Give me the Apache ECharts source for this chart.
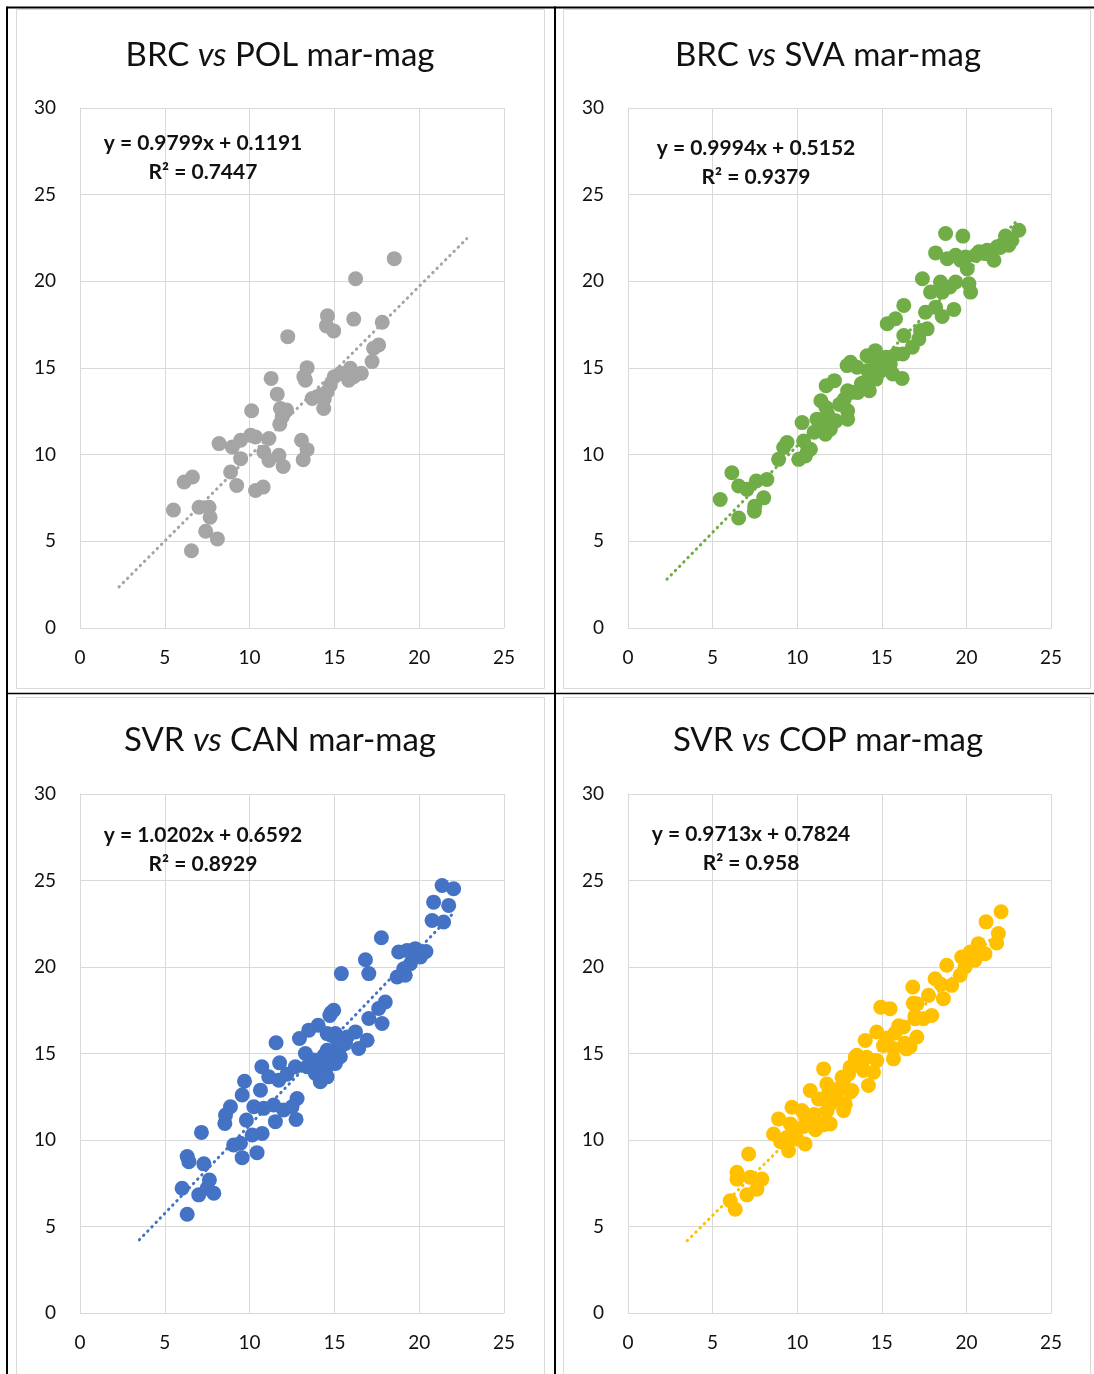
<!DOCTYPE html>
<html>
<head>
<meta charset="utf-8">
<script src="https://cdn.jsdelivr.net/npm/echarts@6/dist/echarts.min.js"></script>
<style>
html,body{margin:0;padding:0;background:#fff;}
#chart{width:1094px;height:1374px;}
</style>
</head>
<body>
<div id="chart"></div>
<script>
// ---------- DATA ----------
var titleLeft = ['BRC', 'BRC', 'SVR', 'SVR'];
var titleRight = ['POL mar-mag', 'SVA mar-mag', 'CAN mar-mag', 'COP mar-mag'];
var equations = ['y = 0.9799x + 0.1191', 'y = 0.9994x + 0.5152', 'y = 1.0202x + 0.6592', 'y = 0.9713x + 0.7824'];
var r2Labels = ['R\u00b2 = 0.7447', 'R\u00b2 = 0.9379', 'R\u00b2 = 0.8929', 'R\u00b2 = 0.958'];
var trendSlope = [0.9799, 0.9994, 1.0202, 0.9713];
var trendIntercept = [0.1191, 0.5152, 0.6592, 0.7824];
var trendXStart = [2.3, 2.3, 3.5, 3.5];
var trendXEnd = [22.8, 23.0, 22.0, 22.0];
var xTicks = [0, 5, 10, 15, 20, 25];
var yTicks = [0, 5, 10, 15, 20, 25, 30];

var brcPolX = [18.53,16.25,14.59,14.53,14.96,16.14,17.82,12.25,17.61,17.31,17.22,13.39,13.2,13.29,11.27,15.35,15.94,16.14,16.59,15.84,14.76,14.57,14.18,13.69,14.37,11.63,11.82,12.18,11.92,11.78,10.12,11.14,10.06,10.35,9.47,8.98,8.2,9.47,10.84,11.14,11.73,11.98,13.06,13.39,13.16,8.88,9.24,10.35,10.8,6.14,6.63,5.51,7.02,7.61,7.67,7.41,8.1,6.57,15.0,14.4];
var brcPolY = [21.31,20.15,18.01,17.43,17.14,17.82,17.64,16.81,16.33,16.14,15.37,15.02,14.5,14.3,14.4,14.69,14.98,14.5,14.69,14.3,14.02,13.63,13.44,13.24,12.66,13.49,12.66,12.57,12.18,11.76,12.53,10.93,11.12,11.02,10.83,10.44,10.64,9.77,10.15,9.67,9.96,9.32,10.83,10.29,9.71,9.0,8.22,7.93,8.13,8.42,8.71,6.81,6.97,6.97,6.39,5.58,5.14,4.46,14.5,13.2];

var brcSvaX = [18.77,19.79,23.1,22.31,22.5,21.82,21.23,21.63,20.74,20.54,18.18,18.87,19.36,19.95,20.05,19.66,22.0,22.69,17.4,17.88,18.47,18.57,19.36,20.15,20.25,19.02,16.3,17.58,18.18,18.57,19.26,15.32,15.81,16.3,17.68,17.19,17.29,14.13,14.62,13.15,12.95,13.54,14.66,15.25,15.85,16.24,15.45,15.65,16.2,15.05,14.66,14.66,14.17,13.97,13.58,14.26,12.98,11.71,12.2,11.4,11.7,11.8,12.28,12.98,12.78,12.98,10.29,11.17,11.57,11.67,11.96,9.4,9.2,8.9,10.09,10.48,10.78,10.38,6.14,6.54,7.03,7.58,8.21,5.45,8.02,7.49,7.47,6.54,14.9,15.5,13.8,12.5,11.0,10.6,21.1,16.8,14.3,13.3];
var brcSvaY = [22.76,22.61,22.95,22.61,22.08,21.99,21.8,21.22,21.7,21.5,21.64,21.31,21.5,21.41,20.73,21.22,21.95,22.37,20.15,19.38,19.96,19.38,19.96,19.86,19.38,19.67,18.61,18.22,18.51,17.97,18.38,17.55,17.84,16.87,17.26,16.68,17.16,15.71,16.0,15.33,15.14,15.04,15.42,15.62,15.81,15.81,15.14,14.65,14.4,15.42,15.04,14.36,14.85,14.17,13.59,13.69,13.69,13.98,14.27,13.11,12.72,12.34,11.95,12.05,13.2,12.53,11.85,12.05,11.76,11.18,11.47,10.7,10.41,9.73,9.73,9.92,10.31,10.79,8.96,8.19,8.0,8.48,8.57,7.41,7.51,7.03,6.74,6.35,14.8,15.2,14.1,12.9,11.3,10.2,21.6,16.2,14.6,13.6];

var svrCanX = [21.35,22.03,20.85,21.74,20.76,21.44,17.77,18.79,19.28,19.77,20.07,19.48,19.09,18.7,19.18,16.83,17.03,15.41,18.0,17.61,17.03,17.81,14.8,14.96,14.04,13.49,12.94,14.57,15.06,16.24,16.93,16.43,15.75,15.35,14.96,13.29,13.78,14.17,14.57,14.17,13.39,14.96,11.56,11.77,12.7,10.72,11.13,11.72,10.64,9.7,9.56,10.25,10.83,11.42,12.01,12.8,12.5,12.74,11.52,9.81,8.87,8.58,8.54,7.16,10.15,10.74,9.46,9.06,9.56,10.44,6.32,6.42,7.3,7.63,7.49,7.89,7.0,6.02,6.32,14.4,13.9,15.2,12.2,19.6,20.4,14.73,14.8,15.65,14.57,15.35,14.18,14.76,15.06,13.88,14.27,14.57];
var svrCanY = [24.71,24.52,23.75,23.56,22.69,22.6,21.69,20.87,20.96,21.06,20.58,20.19,19.9,19.42,19.52,20.42,19.62,19.62,17.98,17.6,17.02,16.73,17.35,17.5,16.63,16.35,15.87,16.15,16.15,16.25,15.77,15.29,15.96,15.38,15.0,15.0,14.62,14.23,14.23,13.37,14.23,14.62,15.62,14.46,14.23,14.23,13.65,13.46,12.88,13.4,12.6,11.92,11.83,12.02,11.73,12.4,11.92,11.19,11.06,11.15,11.92,11.44,10.96,10.44,10.29,10.38,9.81,9.71,8.98,9.27,9.04,8.75,8.62,7.69,7.21,6.92,6.83,7.21,5.71,14.9,14.4,15.6,13.8,20.8,20.9,17.2,16.06,15.58,15.19,14.81,14.42,14.52,14.42,13.85,14.04,13.65];

var svrCopX = [22.05,21.16,21.89,21.79,21.1,20.71,20.22,19.72,19.92,19.63,18.84,19.13,18.15,18.64,17.76,16.83,17.07,17.95,17.46,16.97,14.94,15.49,16.28,17.07,16.46,14.7,14.02,15.1,15.69,13.43,14.11,14.7,14.51,14.21,13.13,12.74,13.13,11.56,11.75,13.23,10.77,11.26,11.95,12.74,9.69,10.28,8.9,9.59,10.77,11.46,11.95,8.6,9.39,9.98,10.47,9.49,7.13,6.44,6.44,7.22,7.91,7.62,7.03,6.04,6.34,10.5,12.5,13.8,15.3,16.0,18.5,20.5,16.86,16.96,15.78,16.37,15.69,16.67,13.53,13.92,12.65,13.04,11.86,12.35,12.84,10.98,11.76,10.39,11.08,9.9,9.02,11.57];
var svrCopY = [23.19,22.61,21.93,21.39,20.77,21.35,20.87,20.58,20.0,19.52,20.1,18.94,19.32,18.17,18.36,18.84,17.88,17.2,17.01,17.01,17.68,17.59,16.53,15.95,15.27,16.24,15.75,15.46,14.69,14.79,14.79,14.59,13.92,13.15,14.21,13.44,12.76,14.11,13.24,12.86,12.86,12.37,12.08,11.7,11.89,11.7,11.22,10.93,10.93,10.93,10.93,10.35,10.15,10.06,9.77,9.38,9.19,8.13,7.74,7.84,7.74,7.16,6.83,6.49,6.0,11.3,13.0,14.4,15.9,16.6,19.0,20.4,17.9,17.16,16.18,15.59,15.29,15.39,14.9,14.02,13.63,13.82,12.75,12.35,12.06,11.47,11.67,10.78,10.59,10.39,9.9,10.88];

var seriesX = [brcPolX, brcSvaX, svrCanX, svrCopX];
var seriesY = [brcPolY, brcSvaY, svrCanY, svrCopY];

// ---------- STYLE / LAYOUT ----------
var colors = ['#A5A5A5', '#70AD47', '#4472C4', '#FFC000'];
var gridLeft = [80, 628, 80, 628];
var gridTop = [108, 108, 794, 794];
var gridW = [424, 423, 424, 423];
var gridH = [520, 520, 519, 519];
var titleCx = [275, 823, 275, 823];
var titleTop = [34, 34, 719, 719];
var eqCx = [203, 756, 203, 751];
var eqCy = [143, 148, 835, 834];
var FONT = 'Lato, "Noto Sans", sans-serif';

function pairs(xs, ys) {
  var out = [];
  for (var i = 0; i < xs.length; i++) out.push([xs[i], ys[i]]);
  return out;
}

var grids = [], xAxes = [], yAxes = [], series = [], titles = [], graphics = [];
for (var k = 0; k < 4; k++) {
  grids.push({left: gridLeft[k], top: gridTop[k], width: gridW[k], height: gridH[k], containLabel: false});
  xAxes.push({
    type: 'value', gridIndex: k, min: xTicks[0], max: xTicks[xTicks.length - 1], interval: 5,
    axisLine: {show: true, lineStyle: {color: '#d9d9d9', width: 1}},
    axisTick: {show: false},
    axisLabel: {color: '#111', fontSize: 19, fontFamily: FONT, margin: 20},
    splitLine: {show: true, lineStyle: {color: '#d9d9d9', width: 1}}
  });
  yAxes.push({
    type: 'value', gridIndex: k, min: yTicks[0], max: yTicks[yTicks.length - 1], interval: 5,
    axisLine: {show: true, lineStyle: {color: '#d9d9d9', width: 1}},
    axisTick: {show: false},
    axisLabel: {color: '#111', fontSize: 19, fontFamily: FONT, margin: 24},
    splitLine: {show: true, lineStyle: {color: '#d9d9d9', width: 1}}
  });
  series.push({
    type: 'scatter', xAxisIndex: k, yAxisIndex: k,
    data: pairs(seriesX[k], seriesY[k]),
    symbol: 'circle', symbolSize: 15,
    itemStyle: {color: colors[k], opacity: 1},
    z: 2, animation: false
  });
  series.push({
    type: 'line', xAxisIndex: k, yAxisIndex: k,
    data: [[trendXStart[k], trendSlope[k] * trendXStart[k] + trendIntercept[k]],
           [trendXEnd[k], trendSlope[k] * trendXEnd[k] + trendIntercept[k]]],
    showSymbol: false, symbol: 'none',
    lineStyle: {color: colors[k], width: 3, type: [0.5, 5.5], cap: 'round'},
    z: 3, animation: false, silent: true
  });
  titles.push({
    text: '{n|' + titleLeft[k] + ' }{i|vs}{n| ' + titleRight[k] + '}',
    left: titleCx[k], top: titleTop[k], textAlign: 'center',
    textStyle: {
      rich: {
        n: {fontSize: 33, fontFamily: FONT, color: '#111', fontWeight: 'normal'},
        i: {fontSize: 33, fontFamily: FONT, color: '#111', fontStyle: 'italic', fontWeight: 'normal'}
      }
    }
  });
  graphics.push({
    type: 'text', x: eqCx[k], y: eqCy[k] - 14, z: 10,
    style: {
      text: equations[k] + '\n' + r2Labels[k],
      textAlign: 'center', textVerticalAlign: 'top',
      font: 'bold 21px ' + FONT, fill: '#111', lineHeight: 29
    }
  });
}

// panel borders (light grey)
var borderRects = [[16.5, 9.5, 528, 679], [563.5, 9.5, 527, 679], [16.5, 697.5, 528, 700], [563.5, 697.5, 527, 700]];
borderRects.forEach(function (r) {
  graphics.push({type: 'rect', shape: {x: r[0], y: r[1], width: r[2], height: r[3]},
    style: {fill: 'none', stroke: '#d9d9d9', lineWidth: 1}, z: 0, silent: true});
});
// table lines (black)
var blackLines = [[7, 7.5, 1094, 7.5, 2], [7, 6.5, 7, 1374, 2], [555, 6.5, 555, 1374, 2], [7, 693.5, 1094, 693.5, 1.5]];
blackLines.forEach(function (l) {
  graphics.push({type: 'line', shape: {x1: l[0], y1: l[1], x2: l[2], y2: l[3]},
    style: {stroke: '#000', lineWidth: l[4]}, z: 20, silent: true});
});

var chart = echarts.init(document.getElementById('chart'), null, {renderer: 'canvas'});
chart.setOption({
  animation: false,
  backgroundColor: '#fff',
  title: titles,
  grid: grids,
  xAxis: xAxes,
  yAxis: yAxes,
  series: series,
  graphic: graphics
});
</script>
</body>
</html>
